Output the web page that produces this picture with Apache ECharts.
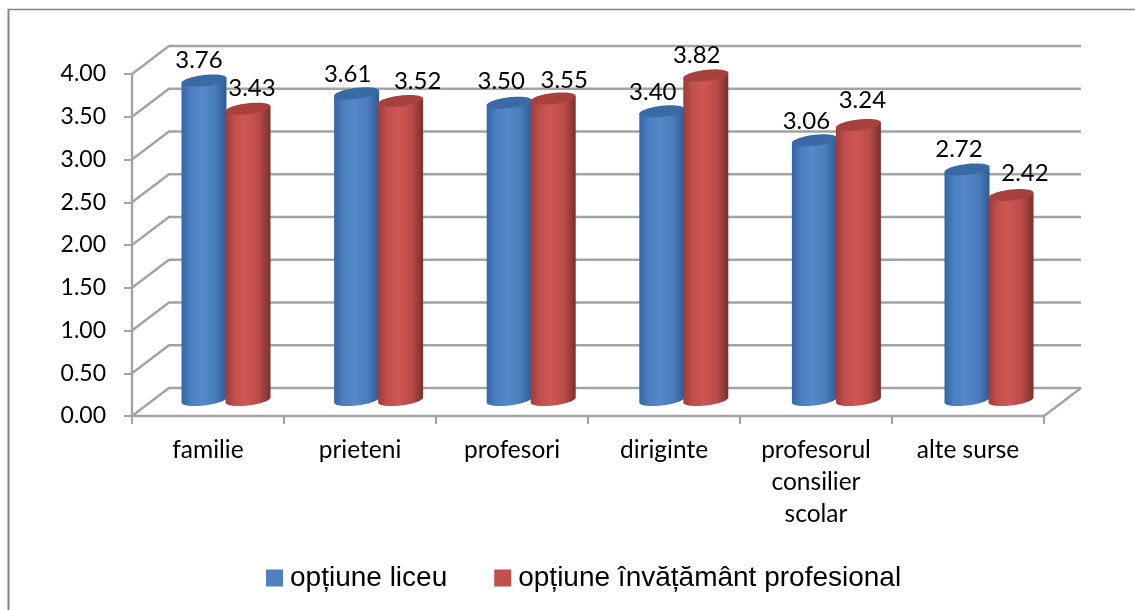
<!DOCTYPE html>
<html>
<head>
<meta charset="utf-8">
<style>html,body{margin:0;padding:0;background:#fff}#c{width:1135px;height:610px}</style>
<script src="https://cdn.jsdelivr.net/npm/echarts@6/dist/echarts.min.js"></script>
</head>
<body>
<div id="c"></div>
<script>
const categories = ['familie','prieteni','profesori','diriginte','profesorul\nconsilier\nscolar','alte surse'];
const liceu = [3.76,3.61,3.50,3.40,3.06,2.72];
const profesional = [3.43,3.52,3.55,3.82,3.24,2.42];
const yTicks = [0,0.5,1,1.5,2,2.5,3,3.5,4];
const seriesNames = ['opțiune liceu','opțiune învățământ profesional'];

// look of the pseudo-3D box
const DX = 37, DY = 28, BAR_W = 45, RY = 5.5, SHEAR = 2.5, PERSPECTIVE = 0.6;
const GRID_COLOR = '#a3a3a3', FONT = 'Lato';
const styles = [
  {legend:'#4f81bd', top:'#3a6aa4', stops:['#3566a6','#4b7dbf','#5489cb','#4a7cbc','#2f5b94']},
  {legend:'#c0504d', top:'#a8403d', stops:['#9c3d3a','#c04f4c','#cf5754','#b84b48','#7c2f2d']}
];
// manual label nudges, as in the reference
const labelNudge = [
  [[-5,-20],[-9,-19],[-8,-21],[-9,-19],[-8,-19],[-8,-20]],
  [[4,-20],[17,-20],[11,-18],[-9,-20],[4,-25],[14,-22]]
];

function wallItem(params, api) {
  const cs = params.coordSys;
  const tick = api.value(1);
  const y = api.coord([0, tick])[1];
  const x0 = cs.x, x1 = cs.x + cs.width;
  const line = {stroke: GRID_COLOR, lineWidth: 2.4, fill: 'none'};
  const children = [{type:'polyline', shape:{points:[[x0,y],[x0+DX,y-DY],[x1+DX,y-DY]]}, style:line}];
  if (tick === 0) children.push({type:'line', shape:{x1:x1,y1:y,x2:x1+DX,y2:y-DY}, style:{stroke:GRID_COLOR,lineWidth:2.4}});
  return {type:'group', children};
}

function cylinderItem(si) {
  return function (params, api) {
    const idx = api.value(0), val = api.value(1);
    const top = api.coord([idx, val]);
    const base = api.coord([idx, 0]);
    const cx = top[0] + DX/2 + (si === 0 ? -BAR_W/2 : BAR_W/2 - 1) + idx*PERSPECTIVE;
    const yT = top[1] - DY/2, yB = base[1] - DY/2 - 2;
    const rx = BAR_W/2;
    const pts = [];
    for (let t = Math.PI; t >= 0; t -= Math.PI/40) {
      pts.push([cx + rx*Math.cos(t), yB + RY*Math.sin(t) - SHEAR*Math.cos(t)]);
    }
    pts.push([cx + rx, yT - SHEAR]);
    pts.push([cx - rx, yT + SHEAR]);
    const cap = [];
    for (let t = 0; t < Math.PI*2; t += Math.PI/40) {
      cap.push([cx + rx*Math.cos(t), yT + RY*Math.sin(t) - SHEAR*Math.cos(t)]);
    }
    const s = styles[si];
    const n = labelNudge[si][idx];
    return {type:'group', children:[
      {type:'polygon', shape:{points:pts}, style:{
        fill:new echarts.graphic.LinearGradient(0,0,1,0,
          s.stops.map((c,i)=>({offset:[0,0.2,0.45,0.75,1][i],color:c})))}},
      {type:'polygon', shape:{points:cap}, style:{fill:s.top}},
      {type:'text', z2:50, x:cx+n[0], y:yT+n[1], style:{
        text:val.toFixed(2), font:'24px '+FONT, fill:'#000', align:'center', verticalAlign:'middle'}}
    ]};
  };
}

const chart = echarts.init(document.getElementById('c'), null, {renderer:'canvas'});
chart.setOption({
  animation:false,
  backgroundColor:'#fff',
  graphic:[
    {type:'line', shape:{x1:8,y1:9.5,x2:1135,y2:9.5}, style:{stroke:'#868686',lineWidth:1.5}, silent:true},
    {type:'line', shape:{x1:8.5,y1:9,x2:8.5,y2:610}, style:{stroke:'#868686',lineWidth:2}, silent:true}
  ],
  legend:{
    left:261, top:559, orient:'horizontal',
    data:seriesNames, icon:'rect', itemWidth:17, itemHeight:17, itemGap:47,
    selectedMode:false,
    textStyle:{fontFamily:'Liberation Sans', fontSize:28, color:'#000', padding:[0,0,0,2]}
  },
  grid:{left:132, top:74, width:912, height:342, containLabel:false},
  xAxis:{
    type:'category', data:categories, boundaryGap:true,
    axisLine:{lineStyle:{color:GRID_COLOR,width:2.4}},
    axisTick:{show:true,alignWithLabel:false,length:8,lineStyle:{color:GRID_COLOR,width:2}},
    axisLabel:{interval:0,margin:18,fontFamily:FONT,fontSize:24.5,color:'#000',lineHeight:32},
    splitLine:{show:false}
  },
  yAxis:{
    type:'value', min:0, max:4, interval:0.5,
    axisLine:{show:true,lineStyle:{color:GRID_COLOR,width:2.4}},
    axisTick:{show:true,length:8,lineStyle:{color:GRID_COLOR,width:2}},
    axisLabel:{margin:26,fontFamily:FONT,fontSize:23,color:'#000',formatter:v=>v.toFixed(2)},
    splitLine:{show:false}
  },
  series:[
    {type:'custom', name:'walls', silent:true, z:1, renderItem:wallItem,
     encode:{x:0,y:1}, data:yTicks.map(t=>[0,t])},
    {type:'custom', name:seriesNames[0], silent:true, z:3, renderItem:cylinderItem(0),
     itemStyle:{color:styles[0].legend}, encode:{x:0,y:1}, data:liceu.map((v,i)=>[i,v])},
    {type:'custom', name:seriesNames[1], silent:true, z:3, renderItem:cylinderItem(1),
     itemStyle:{color:styles[1].legend}, encode:{x:0,y:1}, data:profesional.map((v,i)=>[i,v])}
  ]
});
</script>
</body>
</html>
